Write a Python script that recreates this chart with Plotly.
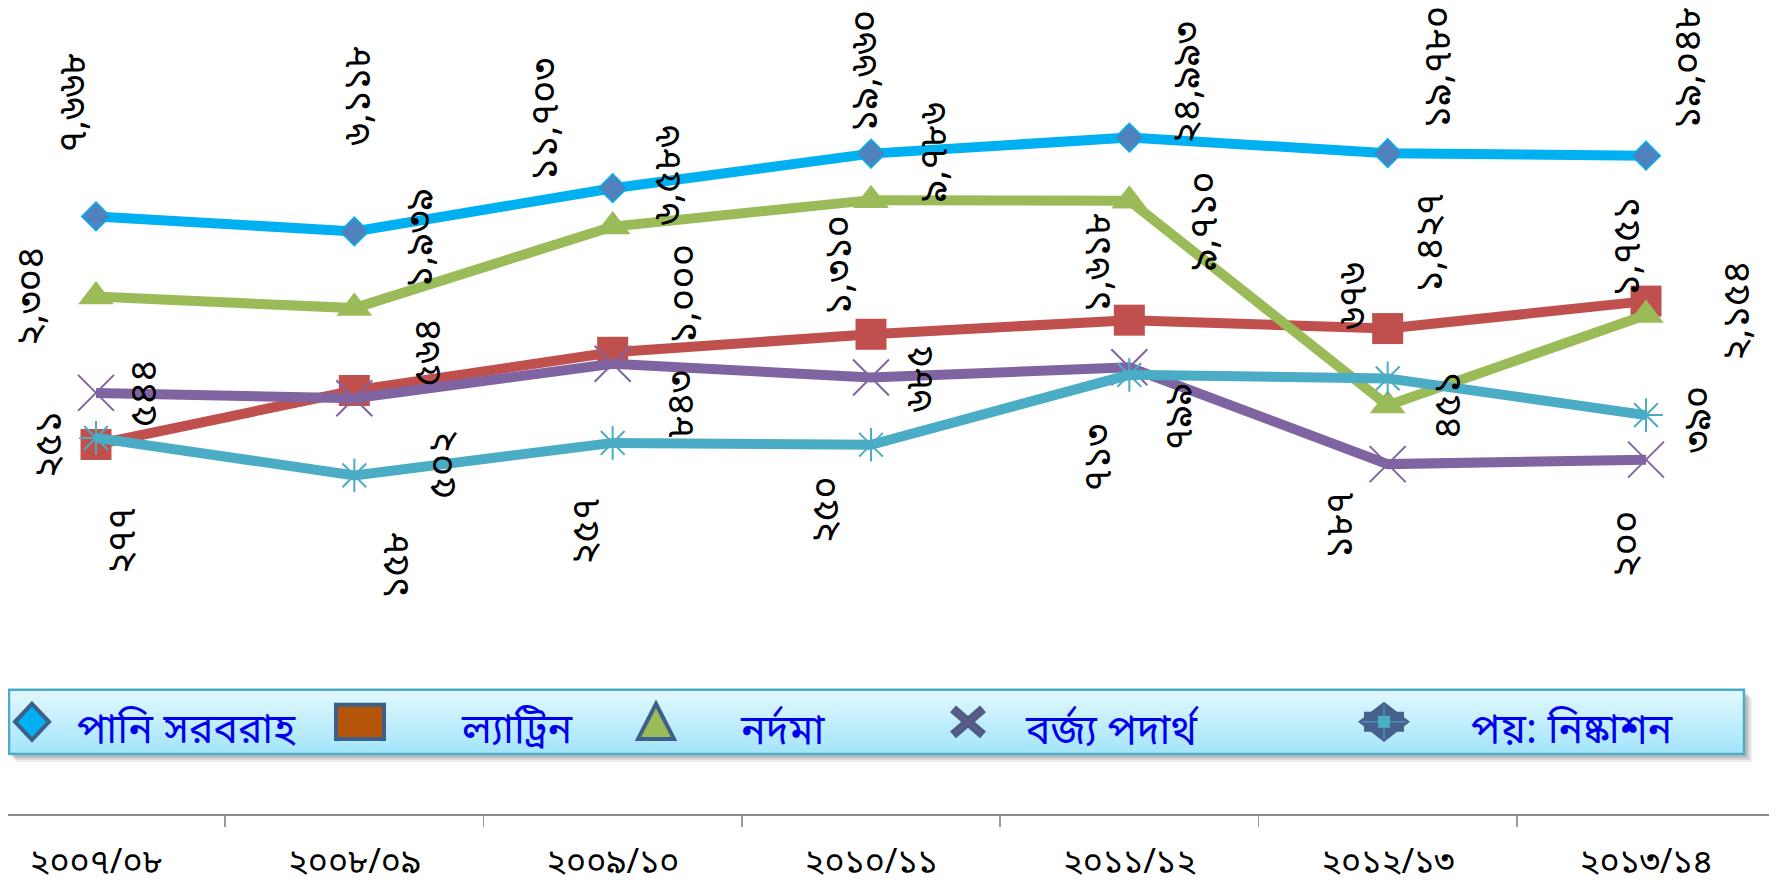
import math
import plotly.graph_objects as go

# ---------------- data ----------------
categories = ["২০০৭/০৮", "২০০৮/০৯", "২০০৯/১০", "২০১০/১১", "২০১১/১২", "২০১২/১৩", "২০১৩/১৪"]
series_names = ["পানি সরবরাহ", "ল্যাট্রিন", "নর্দমা", "বর্জ্য পদার্থ", "পয়: নিষ্কাশন"]
water_supply = [7668, 6118, 11703, 19660, 24993, 19780, 19048]
latrine = [251, 564, 1000, 1310, 1618, 1427, 2154]
drainage = [2304, 1939, 6586, 9786, 9710, 451, 1751]
solid_waste = [544, 502, 843, 685, 799, 187, 200]
sewerage = [277, 158, 257, 250, 713, 676, 390]

# ---------------- layout geometry ----------------
OFF = 8                      # html body margin
SY = 0.984                   # observed vertical scale of the captured page
W, H = 1777 - 2 * OFF, 879


def fx(x):                   # target picture x -> figure px
    return x - OFF


def fy(y):                   # target picture y -> figure px
    return y / SY - OFF


PH = round(fy(811))          # plot area height (x axis line at picture y 811)
MB = H - PH
BN = str.maketrans("0123456789", "০১২৩৪৫৬৭৮৯")
FONT = "'Noto Sans Bengali', 'Lohit Bengali', Vrinda, 'Noto Sans', sans-serif"


def bn(v):
    return f"{v:,}".translate(BN)


# label offsets (px right, px down) relative to each point
label_offsets = {
    0: [(-20, -112), (6, -134), (-66, -68), (-4, -81), (60, -54), (53, -85), (44, -86)],
    1: [(-45, 0), (77, -38), (74, -57), (-30, -68), (-29, -57), (45, -84), (93, 10)],
    2: [(-62, 0), (69, -69), (58, -50), (65, -47), (78, 20), (63, 0), (-16, -67)],
    3: [(51, 0), (91, 65), (71, 40), (52, 1), (52, 48), (-46, 60), (-16, 83)],
    4: [(29, 101), (44, 88), (-24, 87), (-42, 64), (-29, 81), (-33, -81), (54, 4)],
}

styles = [
    dict(line=dict(color="#00B0F0", width=10),
         marker=dict(symbol="diamond", size=22, color="#4F81BD", line=dict(color="#00B0F0", width=1.5))),
    dict(line=dict(color="#C0504D", width=10),
         marker=dict(symbol="square", size=31, color="#C0504D", line=dict(width=0))),
    dict(line=dict(color="#9BBB59", width=10),
         marker=dict(symbol="triangle-up", size=31, color="#9BBB59", line=dict(width=0))),
    dict(line=dict(color="#8064A2", width=10),
         marker=dict(symbol="x-thin-open", size=36, color="#8064A2", line=dict(color="#8064A2", width=2))),
    dict(line=dict(color="#4BACC6", width=10),
         marker=dict(symbol="asterisk-open", size=28, color="#4BACC6", line=dict(color="#4BACC6", width=2))),
]

all_series = [water_supply, latrine, drainage, solid_waste, sewerage]

fig = go.Figure()
annotations = []
for k, (name, vals) in enumerate(zip(series_names, all_series)):
    fig.add_trace(go.Scatter(x=categories, y=vals, name=name, mode="lines+markers",
                             showlegend=False, cliponaxis=False, hoverinfo="skip", **styles[k]))
    for i, v in enumerate(vals):
        dx, dy = label_offsets[k][i]
        annotations.append(dict(x=categories[i], y=math.log10(v), xref="x", yref="y",
                                text=bn(v), textangle=-90, showarrow=False, borderpad=0,
                                xshift=dx, yshift=-dy / SY,
                                font=dict(family=FONT, size=38, color="black")))


# ---------------- hand-built legend (target picture coords -> paper) ----------------
def px(x):
    return fx(x) / W


def py(y):
    return (PH - fy(y)) / PH


shapes = []
LX0, LX1, LY0, LY1 = OFF, 1744, 687, 751
# shadow
for j, (off, op) in enumerate([(8, 0.10), (6, 0.15), (4, 0.2)]):
    shapes.append(dict(type="rect", xref="paper", yref="paper",
                       x0=px(LX0 + off), x1=px(LX1 + off), y0=py(LY0 + off), y1=py(LY1 + off),
                       fillcolor=f"rgba(90,90,90,{op})", line=dict(width=0), layer="above"))
# gradient fill
top, bot = (226, 248, 254), (163, 229, 250)
N = 32
for j in range(N):
    t = j / (N - 1)
    c = tuple(round(top[m] + (bot[m] - top[m]) * t) for m in range(3))
    y0 = LY0 + (LY1 - LY0) * j / N
    y1 = LY0 + (LY1 - LY0) * (j + 1) / N + 0.6
    shapes.append(dict(type="rect", xref="paper", yref="paper",
                       x0=px(LX0), x1=px(LX1), y0=py(y0), y1=py(min(y1, LY1)),
                       fillcolor=f"rgb{c}", line=dict(width=0), layer="above"))
# border
shapes.append(dict(type="rect", xref="paper", yref="paper",
                   x0=px(LX0 + 1), x1=px(LX1), y0=py(LY0), y1=py(LY1),
                   fillcolor="rgba(0,0,0,0)", line=dict(color="#4BACC6", width=2.5), layer="above"))

SYM_EDGE = "#3E5F8A"


def path(points):
    return "M " + " L ".join(f"{px(a):.6f},{py(b):.6f}" for a, b in points) + " Z"


cy = 719
# diamond
shapes.append(dict(type="path", xref="paper", yref="paper",
                   path=path([(32, cy - 18), (49, cy), (32, cy + 18), (15, cy)]),
                   fillcolor="#00B0F0", line=dict(color=SYM_EDGE, width=4), layer="above"))
# square
shapes.append(dict(type="rect", xref="paper", yref="paper",
                   x0=px(336), x1=px(384), y0=py(cy - 17), y1=py(cy + 17),
                   fillcolor="#B4550A", line=dict(color=SYM_EDGE, width=4), layer="above"))
# triangle
shapes.append(dict(type="path", xref="paper", yref="paper",
                   path=path([(656, cy - 18), (674, cy + 17), (638, cy + 17)]),
                   fillcolor="#9BBB59", line=dict(color=SYM_EDGE, width=4), layer="above"))
# x marker
for (a, b, c, d) in [(953, cy - 13, 983, cy + 13), (953, cy + 13, 983, cy - 13)]:
    shapes.append(dict(type="line", xref="paper", yref="paper",
                       x0=px(a), y0=py(b), x1=px(c), y1=py(d),
                       line=dict(color="#4A5D86", width=9), layer="above"))
for (a, b, c, d) in [(955, cy - 11, 981, cy + 11), (955, cy + 11, 981, cy - 11)]:
    shapes.append(dict(type="line", xref="paper", yref="paper",
                       x0=px(a), y0=py(b), x1=px(c), y1=py(d),
                       line=dict(color="#A0507A", width=1), layer="above"))
# sewerage marker
shapes.append(dict(type="path", xref="paper", yref="paper",
                   path=path([(1358, cy), (1384, cy - 20), (1410, cy), (1384, cy + 20)]),
                   fillcolor="#46618C", line=dict(width=0), layer="above"))
shapes.append(dict(type="rect", xref="paper", yref="paper",
                   x0=px(1364), x1=px(1404), y0=py(cy - 10), y1=py(cy + 10),
                   fillcolor="#46618C", line=dict(width=0), layer="above"))
shapes.append(dict(type="line", xref="paper", yref="paper",
                   x0=px(1362), x1=px(1406), y0=py(cy), y1=py(cy),
                   line=dict(color="#4BACC6", width=1), layer="above"))
shapes.append(dict(type="line", xref="paper", yref="paper",
                   x0=px(1384), x1=px(1384), y0=py(cy - 17), y1=py(cy + 17),
                   line=dict(color="#4BACC6", width=1), layer="above"))
shapes.append(dict(type="rect", xref="paper", yref="paper",
                   x0=px(1378), x1=px(1390), y0=py(cy - 6), y1=py(cy + 6),
                   fillcolor="#4BACC6", line=dict(width=0), layer="above"))

text_x = [75, 459, 738, 1023, 1469]
for name, tx in zip(series_names, text_x):
    annotations.append(dict(x=px(tx), y=py(730), xref="paper", yref="paper",
                            text=name, showarrow=False, xanchor="left", yanchor="middle",
                            font=dict(family=FONT, size=41, color="#0000EE")))

# x range: category 0 at picture x 96, category 6 at picture x 1646
span = 6 * W / (1646 - 96)
x_lo = -fx(96) / W * span
# y (log) range: value 7668 at picture y 215.5, 153 picture px per decade
PPD = 153.0 / SY
y_hi = math.log10(7668) + fy(215.5) / PPD
y_lo = y_hi - PH / PPD

fig.update_layout(
    width=W, height=H,
    margin=dict(l=0, r=0, t=0, b=MB, pad=0),
    paper_bgcolor="white", plot_bgcolor="white",
    showlegend=False,
    hovermode=False,
    annotations=annotations,
    shapes=shapes,
    xaxis=dict(type="category", range=[x_lo, x_lo + span], showgrid=False, zeroline=False,
               showline=True, linecolor="#8C8C8C", linewidth=2,
               ticks="outside", tickson="boundaries", ticklen=11, tickwidth=1.5, tickcolor="#9A9A9A",
               ticklabelstandoff=16,
               tickfont=dict(family=FONT, size=34, color="black")),
    yaxis=dict(type="log", range=[y_lo, y_hi], visible=False, showgrid=False, zeroline=False),
)

fig.write_html("out.html", config={"displayModeBar": False, "staticPlot": True})
